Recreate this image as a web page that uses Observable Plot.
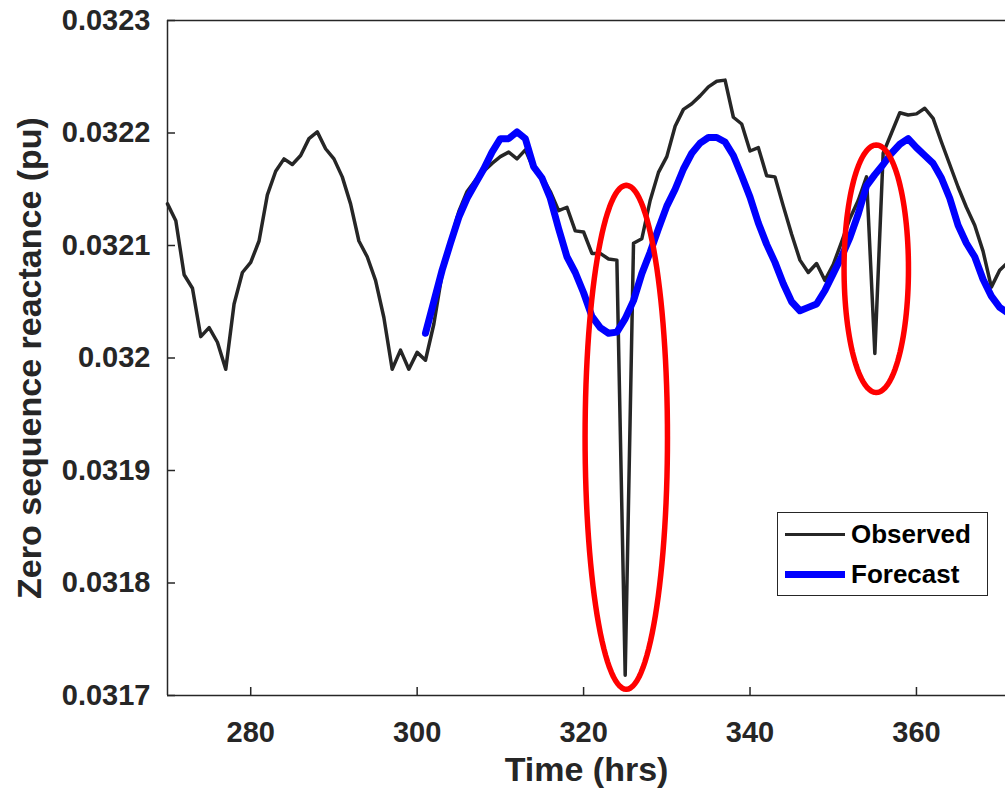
<!DOCTYPE html>
<html>
<head>
<meta charset="utf-8">
<script src="https://cdn.jsdelivr.net/npm/d3@7"></script>
<script src="https://cdn.jsdelivr.net/npm/@observablehq/plot@0.6"></script>
<style>
  body { margin: 0; background: #fff; }
  #wrap { position: relative; width: 1005px; height: 804px; overflow: hidden; background: #fff; }
  #legend { position: absolute; left: 777px; top: 512px; width: 209px; height: 82px;
            border: 1.5px solid #262626; background: #fff;
            font-family: "Liberation Sans", Arial, sans-serif; font-weight: bold; font-size: 26px; color: #000; }
  .row { position: absolute; left: 0; height: 40px; display: flex; align-items: center; }
  .sw { width: 60px; margin-left: 7px; margin-right: 6px; }
</style>
</head>
<body>
<div id="wrap"></div>
<script>
// ---- Data ----
const obsTime = [270,271,272,273,274,275,276,277,278,279,280,281,282,283,284,285,286,287,288,289,
  290,291,292,293,294,295,296,297,298,299,300,301,302,303,304,305,306,307,308,309,
  310,311,312,313,314,315,316,317,318,319,320,321,322,323,324,325,326,327,328,329,
  330,331,332,333,334,335,336,337,338,339,340,341,342,343,344,345,346,347,348,349,
  350,351,352,353,354,355,356,357,358,359,360,361,362,363,364,365,366,367,368,369,370,371];
const obsValue = [0.032137,0.032122,0.032074,0.032062,0.032019,0.032027,0.032014,0.031990,0.032048,0.032076,
  0.032085,0.032104,0.032145,0.032166,0.032177,0.032172,0.032180,0.032195,0.032201,0.032186,
  0.032177,0.032161,0.032137,0.032104,0.032090,0.032069,0.032036,0.031990,0.032007,0.031990,
  0.032005,0.031998,0.032030,0.032075,0.032104,0.032130,0.032148,0.032158,0.032166,0.032173,
  0.032179,0.032183,0.032177,0.032185,0.032168,0.032161,0.032148,0.032131,0.032134,0.032113,
  0.032112,0.032093,0.032093,0.032088,0.032087,0.031718,0.032102,0.032106,0.032140,0.032165,
  0.032179,0.032206,0.032221,0.032226,0.032233,0.032241,0.032246,0.032247,0.032214,0.032208,
  0.032184,0.032187,0.032162,0.032161,0.032135,0.032110,0.032087,0.032076,0.032084,0.032069,
  0.032083,0.032103,0.032124,0.032140,0.032161,0.032004,0.032182,0.032200,0.032218,0.032216,
  0.032217,0.032222,0.032213,0.032192,0.032172,0.032152,0.032134,0.032118,0.032095,0.032063,
  0.032078,0.032085];

const fcTime = [301,302,303,304,305,306,307,308,309,310,311,312,313,314,315,316,317,318,319,320,
  321,322,323,324,325,326,327,328,329,330,331,332,333,334,335,336,337,338,339,340,
  341,342,343,344,345,346,347,348,349,350,351,352,353,354,355,356,357,358,359,360,
  361,362,363,364,365,366,367,368,369,370,371];
const fcValue = [0.032022,0.032050,0.032078,0.032102,0.032125,0.032142,0.032155,0.032168,0.032183,0.032195,
  0.032195,0.032201,0.032195,0.032170,0.032160,0.032142,0.032115,0.032090,0.032076,0.032058,
  0.032037,0.032027,0.032022,0.032023,0.032035,0.032051,0.032075,0.032094,0.032115,0.032135,
  0.032150,0.032168,0.032182,0.032191,0.032196,0.032196,0.032192,0.032180,0.032162,0.032143,
  0.032120,0.032101,0.032085,0.032066,0.032050,0.032042,0.032045,0.032048,0.032060,0.032075,
  0.032090,0.032107,0.032128,0.032153,0.032163,0.032172,0.032182,0.032190,0.032195,0.032187,
  0.032180,0.032173,0.032160,0.032142,0.032118,0.032102,0.032090,0.032070,0.032055,0.032045,0.032040];

const xTicks = [280, 300, 320, 340, 360];
const yTicks = [0.0317, 0.0318, 0.0319, 0.032, 0.0321, 0.0322, 0.0323];
const xDomain = [270, 370.7];
const yDomain = [0.0317, 0.0323];

// Red highlight ellipses (centre time, centre value, half-width in hrs, half-height in pu)
const ellipseCenterT = [325.13, 355.17];
const ellipseCenterV = [0.0319295, 0.0320793];
const ellipseRadiusT = [4.95, 3.87];
const ellipseRadiusV = [0.000224, 0.00011];

const seriesNames = ["Observed", "Forecast"];
const seriesColors = ["#262626", "#0000ff"];

// ---- Build tables ----
const observed = obsTime.map((t, i) => ({t, v: obsValue[i]}));
const forecast = fcTime.map((t, i) => ({t, v: fcValue[i]}));
const ellipsePts = [];
ellipseCenterT.forEach((ct, k) => {
  for (let j = 0; j <= 120; j++) {
    const a = (j / 120) * 2 * Math.PI;
    ellipsePts.push({id: k, t: ct + ellipseRadiusT[k] * Math.cos(a), v: ellipseCenterV[k] + ellipseRadiusV[k] * Math.sin(a)});
  }
});

const W = 1005, H = 804, mL = 167, mR = 0, mT = 20, mB = 109;
const plotW = W - mL - mR, plotH = H - mT - mB;
const ink = "#262626";

const chart = Plot.plot({
  width: W, height: H,
  marginLeft: mL, marginRight: mR, marginTop: mT, marginBottom: mB,
  x: {domain: xDomain},
  y: {domain: yDomain},
  style: {fontFamily: "'Liberation Sans', Arial, sans-serif", fontWeight: "bold", color: ink, background: "#fff", overflow: "visible"},
  marks: [
    Plot.line(observed, {x: "t", y: "v", stroke: seriesColors[0], strokeWidth: 3.5, strokeLinejoin: "round"}),
    Plot.line(forecast, {x: "t", y: "v", stroke: seriesColors[1], strokeWidth: 7, strokeLinejoin: "round"}),
    Plot.line(ellipsePts, {x: "t", y: "v", z: "id", stroke: "#ff0000", strokeWidth: 5.5}),
    Plot.ruleX([xDomain[0]], {stroke: ink, strokeWidth: 1.5}),
    Plot.ruleY(yDomain, {stroke: ink, strokeWidth: 1.5}),
    Plot.ruleX(xTicks, {stroke: ink, strokeWidth: 1.5, insetTop: plotH - 8}),
    Plot.ruleY(yTicks, {stroke: ink, strokeWidth: 1.5, insetRight: plotW - 8}),
    Plot.axisX(xTicks, {tickSize: 0, tickPadding: 26, fontSize: 29, fill: ink, label: null}),
    Plot.axisY(yTicks, {tickSize: 0, tickPadding: 17, fontSize: 29, fill: ink, label: null,
      tickFormat: d => String(+d.toFixed(4))}),
    Plot.text(["Time (hrs)"], {frameAnchor: "bottom", dy: 85, fontSize: 34, fill: ink}),
    Plot.text(["Zero sequence reactance (pu)"], {frameAnchor: "left", dx: -137, rotate: -90, textAnchor: "middle", fontSize: 34, fill: ink})
  ]
});

const wrap = document.getElementById("wrap");
wrap.appendChild(chart);

// Legend (HTML overlay)
const legend = document.createElement("div");
legend.id = "legend";
seriesNames.forEach((name, i) => {
  const row = document.createElement("div");
  row.className = "row";
  row.style.top = (i === 0 ? 1 : 41) + "px";
  const sw = document.createElement("div");
  sw.className = "sw";
  sw.style.height = (i === 0 ? 3 : 7) + "px";
  sw.style.background = seriesColors[i];
  const lab = document.createElement("span");
  lab.textContent = name;
  row.appendChild(sw);
  row.appendChild(lab);
  legend.appendChild(row);
});
wrap.appendChild(legend);
</script>
</body>
</html>
